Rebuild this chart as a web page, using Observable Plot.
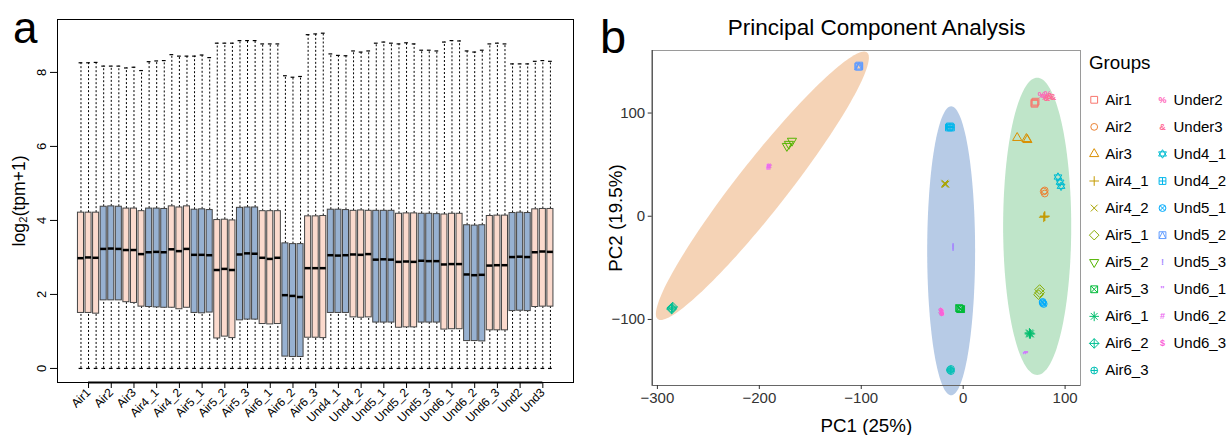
<!DOCTYPE html>
<html><head><meta charset="utf-8">
<script src="https://cdn.jsdelivr.net/npm/d3@7"></script>
<script src="https://cdn.jsdelivr.net/npm/@observablehq/plot@0.6"></script>
<style>
body{margin:0;background:#fff;font-family:"Liberation Sans",Arial,sans-serif;}
#wrap{position:relative;width:1229px;height:435px;overflow:hidden;background:#fff;}
#wrap>div,#wrap>svg{position:absolute;}
.lab{white-space:nowrap;line-height:1;color:#000;}
</style></head><body><div id="wrap"></div>
<script>
// ---------- Panel a data ----------
const boxGroups = ["Air1","Air2","Air3","Air4_1","Air4_2","Air5_1","Air5_2","Air5_3","Air6_1","Air6_2","Air6_3",
  "Und4_1","Und4_2","Und5_1","Und5_2","Und5_3","Und6_1","Und6_2","Und6_3","Und2","Und3"];
const boxMax = [8.26,8.26,8.27, 8.17,8.17,8.17, 8.12,8.14,8.05, 8.29,8.31,8.32, 8.48,8.44,8.44, 8.44,8.47,8.40,
  8.79,8.79,8.79, 8.86,8.86,8.86, 8.77,8.77,8.77, 7.91,7.87,7.89, 9.02,9.04,9.06, 8.50,8.46,8.45, 8.58,8.55,8.58,
  8.79,8.82,8.79, 8.77,8.80,8.77, 8.60,8.60,8.58, 8.82,8.86,8.85, 8.58,8.55,8.60, 8.77,8.79,8.77, 8.23,8.23,8.23, 8.30,8.32,8.30];
const boxQ3 = [4.21,4.21,4.21, 4.37,4.38,4.37, 4.32,4.32,4.25, 4.32,4.32,4.31, 4.38,4.35,4.38, 4.29,4.30,4.28,
  4.01,4.02,4.00, 4.34,4.35,4.35, 4.25,4.25,4.25, 3.38,3.36,3.36, 4.11,4.11,4.12, 4.29,4.29,4.28, 4.26,4.27,4.26,
  4.26,4.26,4.26, 4.18,4.19,4.19, 4.18,4.18,4.17, 4.16,4.18,4.18, 3.87,3.86,3.87, 4.12,4.13,4.13, 4.20,4.21,4.20, 4.30,4.31,4.31];
const boxMed = [2.98,3.00,2.99, 3.23,3.24,3.23, 3.20,3.20,3.09, 3.14,3.15,3.14, 3.22,3.17,3.23, 3.07,3.07,3.06,
  2.66,2.69,2.66, 3.08,3.11,3.10, 2.99,2.96,2.99, 1.98,1.96,1.93, 2.71,2.71,2.71, 3.06,3.05,3.06, 3.08,3.07,3.09,
  2.94,2.95,2.94, 2.88,2.89,2.88, 2.91,2.90,2.90, 2.81,2.82,2.82, 2.54,2.52,2.53, 2.78,2.79,2.79, 3.01,3.02,3.01, 3.14,3.16,3.15];
const boxQ1 = [1.50,1.50,1.48, 1.84,1.84,1.84, 1.79,1.77,1.67, 1.66,1.65,1.64, 1.64,1.60,1.64, 1.50,1.49,1.51,
  0.81,0.86,0.82, 1.30,1.32,1.32, 1.20,1.19,1.20, 0.32,0.31,0.31, 0.83,0.83,0.82, 1.50,1.50,1.50, 1.38,1.37,1.38,
  1.24,1.24,1.24, 1.10,1.11,1.11, 1.24,1.24,1.24, 1.05,1.06,1.06, 0.74,0.74,0.73, 1.03,1.03,1.03, 1.55,1.56,1.55, 1.66,1.67,1.67];
const boxMin = 0;
const yTicksA = [0, 2, 4, 6, 8];
const yTitleA = "log₂(tpm+1)";

// ---------- Panel b data ----------
const pcaGroups = ["Air1","Air2","Air3","Air4_1","Air4_2","Air5_1","Air5_2","Air5_3","Air6_1","Air6_2","Air6_3",
  "Und4_1","Und4_2","Und5_1","Und5_2","Und5_3","Und6_1","Und6_2","Und6_3","Under2","Under3"];
const pcaShapes = [0,1,2,3,4,5,6,7,8,9,10,11,12,13,14,"!","\"","#","$","%","&"];
const pc1 = [ [70,71,70],[80,80,79],[53,62,63],[80,80,79],[-18,-17,-18],[75,74,75],[-173,-168,-171],[-3,-2,-4],
  [65,66,65],[-286,-285,-286],[-13,-12,-12],[93,95,96],[-14,-12,-13],[78,79,78],[-103,-102,-102],[-10,-10,-10],
  [61,62,60],[-191,-191,-190],[-21,-21,-22],[77,80,83],[82,85,88] ];
const pc2 = [ [110,111,109],[25,22,24],[76,75,74],[0,0,-1],[32,31,31],[-71,-76,-74],[68,73,70],[-90,-90,-89],
  [-114,-114,-113],[-89,-88,-90],[-149,-150,-148],[38,33,29],[86,86,87],[-84,-85,-83],[145,145,146],[-29,-31,-30],
  [-134,-134,-135],[48,49,48],[-93,-94,-92],[117,115,118],[114,116,115] ];
const legendOrder = ["Air1","Air2","Air3","Air4_1","Air4_2","Air5_1","Air5_2","Air5_3","Air6_1","Air6_2","Air6_3",
  "Under2","Under3","Und4_1","Und4_2","Und5_1","Und5_2","Und5_3","Und6_1","Und6_2","Und6_3"];
const xTicksB = [-300,-200,-100,0,100];
const yTicksB = [-100,0,100];
// confidence ellipses (center, semi-axes, angle in degrees) in PC units
const ellCx = [-197, -11.8, 72.6];
const ellCy = [29.5, -33.5, -9.8];
const ellA = [165, 140, 144];
const ellB = [24.5, 23.5, 33.4];
const ellAngle = [51.5, 90, 90];
const ellColor = ["#f5d3b6", "#b7cbe6", "#bfe5c9"];

const FONT = '"Liberation Sans", Arial, Helvetica, sans-serif';

// ggplot-like hue palette (polar LUV -> sRGB)
function hclLuv(h, c, l) {
  const hr = h * Math.PI / 180, U = c * Math.cos(hr), V = c * Math.sin(hr);
  const Xn = 95.047, Yn = 100, Zn = 108.883;
  const Y = Yn * (l > 8 ? Math.pow((l + 16) / 116, 3) : l / 903.3);
  const den = Xn + 15 * Yn + 3 * Zn, un = 4 * Xn / den, vn = 9 * Yn / den;
  const u = U / (13 * l) + un, v = V / (13 * l) + vn;
  const X = Y * 9 * u / (4 * v), Z = Y * (12 - 3 * u - 20 * v) / (4 * v);
  const x = X / 100, y = Y / 100, z = Z / 100;
  const lin = [3.240479 * x - 1.537150 * y - 0.498535 * z, -0.969256 * x + 1.875992 * y + 0.041556 * z, 0.055648 * x - 0.204043 * y + 1.057311 * z];
  const g = lin.map(t => { t = Math.max(0, Math.min(1, t)); return t <= 0.0031308 ? 12.92 * t : 1.055 * Math.pow(t, 1 / 2.4) - 0.055; });
  return d3.rgb(g[0] * 255, g[1] * 255, g[2] * 255).formatHex();
}
const nG = pcaGroups.length;
const groupColor = {}, groupShape = {};
pcaGroups.forEach((g, k) => { groupColor[g] = hclLuv(15 + 360 * k / nG, 100, 65); groupShape[g] = pcaShapes[k]; });

// R pch-like symbols
const SQ2 = Math.SQRT2;
const plus = (p, h) => { p.moveTo(-h, 0); p.lineTo(h, 0); p.moveTo(0, -h); p.lineTo(0, h); };
const cross = (p, h) => { p.moveTo(-h, -h); p.lineTo(h, h); p.moveTo(-h, h); p.lineTo(h, -h); };
const diamond = (p, h) => { p.moveTo(0, -h); p.lineTo(h, 0); p.lineTo(0, h); p.lineTo(-h, 0); p.closePath(); };
const square = (p, h) => { p.moveTo(-h, -h); p.lineTo(h, -h); p.lineTo(h, h); p.lineTo(-h, h); p.closePath(); };
const circle = (p, r) => { p.moveTo(r, 0); p.arc(0, 0, r, 0, 2 * Math.PI); };
const triangle = (p, r, s) => { const a = 1.5551 * r, b = 1.3468 * r, c = 0.7776 * r;
  p.moveTo(0, -a * s); p.lineTo(b, c * s); p.lineTo(-b, c * s); p.closePath(); };
const pchDraw = {
  0: (p, r) => square(p, r),
  1: (p, r) => circle(p, r),
  2: (p, r) => triangle(p, r, 1),
  3: (p, r) => plus(p, r * SQ2),
  4: (p, r) => cross(p, r),
  5: (p, r) => diamond(p, r * SQ2),
  6: (p, r) => triangle(p, r, -1),
  7: (p, r) => { square(p, r); cross(p, r); },
  8: (p, r) => { cross(p, r); plus(p, r * SQ2); },
  9: (p, r) => { diamond(p, r * SQ2); plus(p, r * SQ2); },
  10: (p, r) => { circle(p, r); plus(p, r); },
  11: (p, r) => { const a = 1.25 * r, b = 1.15 * r, c = 0.62 * r;
    p.moveTo(0, -a); p.lineTo(b, c); p.lineTo(-b, c); p.closePath();
    p.moveTo(0, a); p.lineTo(b, -c); p.lineTo(-b, -c); p.closePath(); },
  12: (p, r) => { square(p, r); plus(p, r); },
  13: (p, r) => { circle(p, r); cross(p, r * 0.707); },
  14: (p, r) => { square(p, r); p.moveTo(-r, r); p.lineTo(0, -r); p.lineTo(r, r); }
};
const pchSymbol = {};
Object.keys(pchDraw).forEach(k => { pchSymbol[k] = { draw(p, size) { pchDraw[k](p, Math.sqrt(size / Math.PI)); } }; });

const wrap = document.getElementById("wrap");
function addLabel(text, left, top, size, extra = "") {
  const d = document.createElement("div");
  d.className = "lab"; d.textContent = text;
  d.style.cssText = `left:${left}px;top:${top}px;font-size:${size}px;font-family:${FONT};${extra}`;
  wrap.appendChild(d);
}

// ---------- Panel a ----------
const boxData = [];
boxGroups.forEach((g, gi) => { for (let r = 0; r < 3; r++) { const k = gi * 3 + r;
  boxData.push({ pos: k + 1, gi, group: g, max: boxMax[k], q3: boxQ3[k], med: boxMed[k], q1: boxQ1[k], min: boxMin }); } });
const tickPosA = boxGroups.map((g, gi) => gi * 3 + 2);
const boxFill = gi => gi % 2 === 0 ? "#fbdacd" : "#97b1d1";
const hw = 0.4, cw = 0.25;
const pa = Plot.plot({
  width: 600, height: 435, marginLeft: 57, marginRight: 27, marginTop: 19, marginBottom: 53,
  x: { domain: [-2.1, 66.05] }, y: { domain: [-0.38, 9.43] },
  color: { type: "identity" },
  style: { fontFamily: FONT, background: "transparent", color: "#000" },
  marks: [
    Plot.ruleX(boxData, { x: "pos", y1: "q3", y2: "max", stroke: "#000", strokeWidth: 1, strokeDasharray: "2,2" }),
    Plot.ruleX(boxData, { x: "pos", y1: "min", y2: "q1", stroke: "#000", strokeWidth: 1, strokeDasharray: "2,2" }),
    Plot.ruleY(boxData, { y: "max", x1: d => d.pos - cw, x2: d => d.pos + cw, stroke: "#000", strokeWidth: 1.2 }),
    Plot.ruleY(boxData, { y: "min", x1: d => d.pos - cw, x2: d => d.pos + cw, stroke: "#000", strokeWidth: 1.2 }),
    Plot.rect(boxData, { x1: d => d.pos - hw, x2: d => d.pos + hw, y1: "q1", y2: "q3", fill: d => boxFill(d.gi), stroke: "#444", strokeWidth: 1 }),
    Plot.ruleY(boxData, { y: "med", x1: d => d.pos - hw, x2: d => d.pos + hw, stroke: "#000", strokeWidth: 2.5 }),
    Plot.frame({ stroke: "#000", strokeWidth: 1 }),
    Plot.ruleY([-0.38], { x1: tickPosA[0], x2: tickPosA[tickPosA.length - 1], stroke: "#000", strokeWidth: 2 }),
    Plot.axisY({ ticks: yTicksA, tickSize: 7, tickPadding: 5, tickRotate: -90, fontSize: 13, label: null, color: "#000" }),
    Plot.axisX({ ticks: tickPosA, tickFormat: d => boxGroups[Math.round((d - 2) / 3)], tickSize: 6, tickPadding: 2,
      tickRotate: -45, fontSize: 12, label: null, color: "#000" }),
    Plot.text([yTitleA], { text: d => d, frameAnchor: "left", textAnchor: "middle", lineAnchor: "middle", dx: -38, dy: 0, rotate: -90, fontSize: 17.5, fill: "#000" })
  ]
});
pa.style.left = "0px"; pa.style.top = "0px";
wrap.appendChild(pa);

// ---------- Panel b ----------
const ellPts = [];
ellCx.forEach((cx, e) => {
  const th = ellAngle[e] * Math.PI / 180;
  for (let s = 0; s <= 160; s++) {
    const t = 2 * Math.PI * s / 160;
    const a = ellA[e] * Math.cos(t), b = ellB[e] * Math.sin(t);
    ellPts.push({ id: e, color: ellColor[e], x: cx + a * Math.cos(th) - b * Math.sin(th), y: ellCy[e] + a * Math.sin(th) + b * Math.cos(th) });
  }
});
const pts = [];
pcaGroups.forEach((g, k) => { for (let r = 0; r < pc1[k].length; r++) pts.push({ group: g, pc1: pc1[k][r], pc2: pc2[k][r], shape: groupShape[g], color: groupColor[g] }); });
const xDomB = [-305.1, 115.1], yDomB = [-164, 160.6];
const symbolMarks = Object.keys(pchSymbol).map(k => Plot.dot(pts.filter(d => String(d.shape) === k && typeof d.shape === "number"),
  { x: "pc1", y: "pc2", r: 3.4, symbol: pchSymbol[k], stroke: "color", fill: "none", strokeWidth: 1 }));
const pb = Plot.plot({
  width: 629, height: 435, marginLeft: 51.7, marginRight: 149, marginTop: 50, marginBottom: 50,
  x: { domain: xDomB }, y: { domain: yDomB },
  color: { type: "identity" },
  style: { fontFamily: FONT, background: "transparent", color: "#000", overflow: "visible" },
  marks: [
    Plot.line(ellPts, { x: "x", y: "y", z: "id", fill: "color", stroke: "none" }),
    Plot.frame({ stroke: "#9a9a9a", strokeWidth: 1 }),
    Plot.ruleX([xDomB[0]], { stroke: "#333", strokeWidth: 1 }),
    Plot.ruleY([yDomB[0]], { stroke: "#666", strokeWidth: 1 }),
    Plot.axisY({ ticks: yTicksB, tickSize: 4, tickPadding: 3, fontSize: 15, label: null, color: "#333" }),
    Plot.axisX({ ticks: xTicksB, tickSize: 4, tickPadding: 3, fontSize: 15, label: null, color: "#333" }),
    ...symbolMarks,
    Plot.text(pts.filter(d => typeof d.shape === "string"), { x: "pc1", y: "pc2", text: "shape", fill: "color", fontSize: 9, fontWeight: "bold" }),
    Plot.text(["PC1 (25%)"], { text: d => d, frameAnchor: "bottom", textAnchor: "middle", lineAnchor: "middle", dy: 40, fontSize: 18.75, fill: "#000" }),
    Plot.text(["PC2 (19.5%)"], { text: d => d, frameAnchor: "left", textAnchor: "middle", lineAnchor: "middle", dx: -36.7, rotate: -90, fontSize: 18.75, fill: "#000" })
  ]
});
pb.style.left = "600px"; pb.style.top = "0px";
wrap.appendChild(pb);

// ---------- Legend ----------
const legData = legendOrder.map((g, i) => ({ group: g, col: i < 11 ? 0 : 1, row: i < 11 ? i : i - 11, shape: groupShape[g], color: groupColor[g] }));
const legSymbolMarks = Object.keys(pchSymbol).map(k => Plot.dot(legData.filter(d => typeof d.shape === "number" && String(d.shape) === k),
  { x: "col", y: "row", r: 3.4, symbol: pchSymbol[k], stroke: "color", fill: "none", strokeWidth: 1 }));
const leg = Plot.plot({
  width: 147, height: 435, marginLeft: 11.7, marginRight: 67, marginTop: 99.3, marginBottom: 65,
  x: { domain: [0, 1], axis: null }, y: { domain: [0, 10], reverse: true, axis: null },
  color: { type: "identity" },
  style: { fontFamily: FONT, background: "transparent", color: "#000", overflow: "visible" },
  marks: [
    ...legSymbolMarks,
    Plot.text(legData.filter(d => typeof d.shape === "string"), { x: "col", y: "row", text: "shape", fill: "color", fontSize: 9, fontWeight: "bold" }),
    Plot.text(legData, { x: "col", y: "row", text: "group", dx: 11, textAnchor: "start", fontSize: 15, fill: "#000" })
  ]
});
leg.style.left = "1082px"; leg.style.top = "0px";
wrap.appendChild(leg);

// ---------- titles ----------
addLabel("a", 13, 6, 44);
addLabel("b", 600, 13, 47);
addLabel("Principal Component Analysis", 676.7, 16.5, 22.5, "width:400px;text-align:center;");
addLabel("Groups", 1089, 54, 18.75);
</script></body></html>
